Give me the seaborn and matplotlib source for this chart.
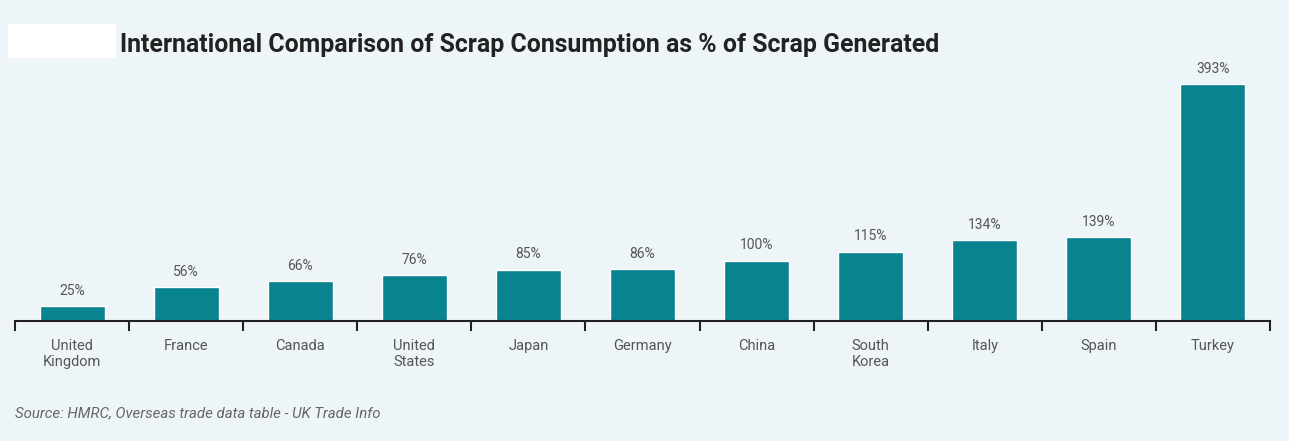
import pandas as pd
import numpy as np
import matplotlib.pyplot as plt
import seaborn as sns
from matplotlib.patches import Rectangle

countries = ["United\nKingdom", "France", "Canada", "United\nStates", "Japan", "Germany",
             "China", "South\nKorea", "Italy", "Spain", "Turkey"]
pct = [25, 56, 66, 76, 85, 86, 100, 115, 134, 139, 393]

df = pd.DataFrame({"country": countries, "pct": pct})

bg = "#eef5f8"
teal = "#08838f"

sns.set_theme(style="white")
plt.rcParams['font.family'] = ['Roboto', 'DejaVu Sans']

fig = plt.figure(figsize=(12.89, 4.41), dpi=100, facecolor=bg)
ax = fig.add_axes([15 / 1289, 1 - 321 / 441, 1255 / 1289, 253 / 441])
ax.set_facecolor(bg)

sns.barplot(data=df, x="country", y="pct", color=teal, width=0.57, saturation=1, ax=ax)
ax.set_xlim(-0.5, len(countries) - 0.5)
ax.set_ylim(0, 420)

# value labels
ax.bar_label(ax.containers[0], labels=[f"{v}%" for v in pct], padding=6,
             fontsize=10, color="#555555")

# spines / ticks
for s in ["top", "right", "left"]:
    ax.spines[s].set_visible(False)
ax.spines["bottom"].set_color("#222222")
ax.spines["bottom"].set_linewidth(1.5)
ax.set_yticks([])
ax.set_xlabel("")
ax.set_ylabel("")
ax.set_xticks(np.arange(-0.5, len(countries)), minor=True)
ax.tick_params(axis="x", which="minor", bottom=True, length=7, width=1.5,
               color="#222222", direction="out")
ax.tick_params(axis="x", which="major", bottom=True, length=0, pad=13,
               labelsize=10.5, labelcolor="#555555")

# title, redaction box, source
fig.patches.append(Rectangle((8 / 1289, 1 - 57 / 441), 107 / 1289, 33 / 441,
                             transform=fig.transFigure, color="white", zorder=0))
fig.text(120 / 1289, 1 - 45 / 441, "International Comparison of Scrap Consumption as % of Scrap Generated",
         fontsize=17.9, fontweight="bold", color="#222222", va="center", ha="left")
fig.text(15 / 1289, 1 - 413 / 441, "Source: HMRC, Overseas trade data table - UK Trade Info",
         fontsize=10.8, style="italic", color="#666666", va="center", ha="left")

fig.savefig("out.png", dpi=100, facecolor=bg)
